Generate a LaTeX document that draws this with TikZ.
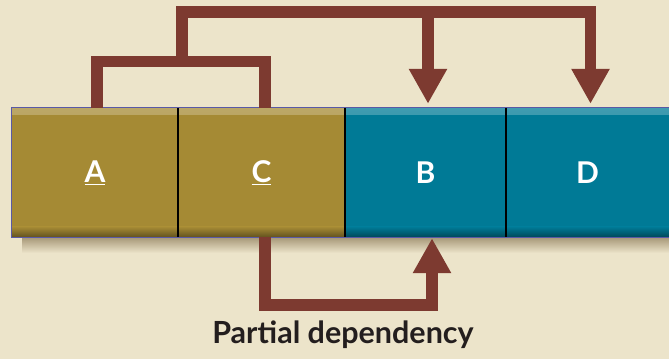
\documentclass[tikz,border=0pt]{standalone}
\usepackage{fontspec}
\setmainfont{Lato}
\usetikzlibrary{arrows.meta,calc}
\definecolor{bg}{RGB}{236,228,202}
\definecolor{cellolive}{RGB}{165,138,52}
\definecolor{cellteal}{RGB}{0,122,150}
\definecolor{arrowred}{RGB}{125,58,48}
\definecolor{txtdark}{RGB}{35,30,30}
\definecolor{shadowc}{RGB}{165,150,118}
\tikzset{
  cell/.style={rectangle, fill=#1, minimum height=129pt, inner sep=0pt,
    text=white, font=\fontsize{30}{30}\selectfont\bfseries,
    path picture={
      \fill[top color=#1!75!white, bottom color=#1]
        (path picture bounding box.north west) rectangle ([yshift=-7pt]path picture bounding box.north east);
      \fill[top color=#1, bottom color=#1!60!black]
        ([yshift=10pt]path picture bounding box.south west) rectangle (path picture bounding box.south east);
    }},
  dep/.style={draw=arrowred, line width=11.5pt, line join=miter},
  head/.style={-{Triangle[width=36pt,length=35pt]}},
  caption/.style={font=\fontsize{30.5}{30.5}\selectfont\bfseries, text=txtdark, inner sep=0pt}
}
\begin{document}
\begin{tikzpicture}[x=1pt,y=1pt]
\fill[bg] (0,0) rectangle (669,359);
\useasboundingbox (0,0) rectangle (669,359);
% shadow
\fill[top color=shadowc, bottom color=bg] (22,122) rectangle (669,106);
% cells
\node[cell=cellolive, minimum width=166pt] (A) at (95,186.5) {\underline{A}};
\node[cell=cellolive, minimum width=167pt] (C) at (261.5,186.5) {\underline{C}};
\node[cell=cellteal, minimum width=161pt] (B) at (425.5,186.5) {B};
\node[cell=cellteal, minimum width=163pt] (D) at (587.5,186.5) {D};
\draw[line width=0.8pt, draw=gray!70!blue] (A.north west) rectangle (D.south east);
\draw[line width=1.6pt, black] (A.north east) -- (A.south east);
\draw[line width=1.6pt, black] (C.north east) -- (C.south east);
\draw[line width=1.6pt, black] (B.north east) -- (B.south east);
% connectors
\coordinate (ac) at (182,297.3);
\coordinate (top) at (182,347);
\draw[dep] ([xshift=2pt]A.north) |- (ac) -| ([xshift=3.5pt]C.north);
\draw[dep, head] (ac) -- (top) -| ([xshift=3pt,yshift=4pt]D.north);
\draw[dep, head] ([xshift=2.5pt]B.north |- top) -- ([xshift=2.5pt,yshift=4pt]B.north);
\coordinate (low) at (432,54);
\draw[dep, head] ([xshift=3.5pt]C.south) |- (low) -- ([xshift=6.5pt,yshift=-1pt]B.south);
\node[caption, anchor=base] (cap) at (343,16) {Partial dependency};
\end{tikzpicture}
\end{document}
